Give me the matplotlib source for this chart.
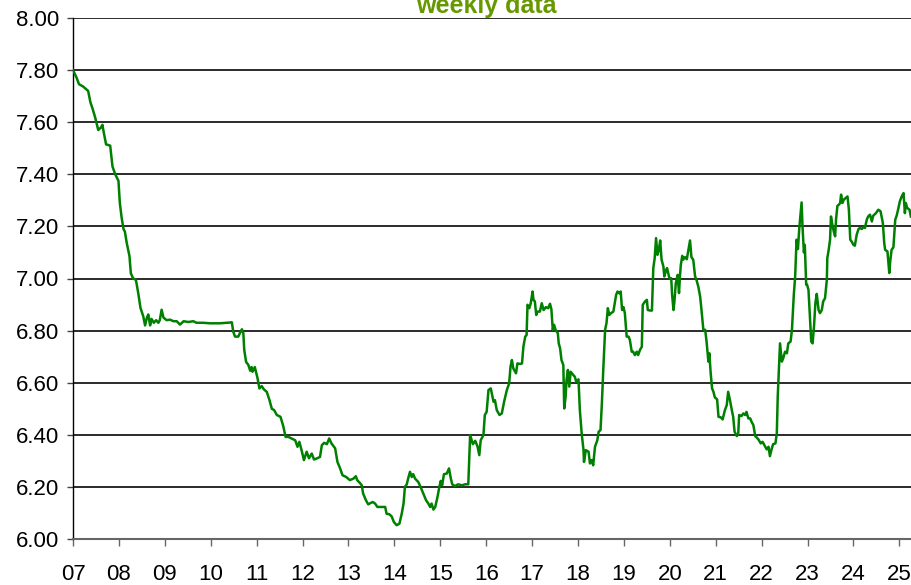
#! /usr/bin/env python
# -*- coding:utf-8 -*-

import sys
import matplotlib
matplotlib.use('Agg') # no gui, must be before 'import matplotlib.pyplot'
import matplotlib.pyplot as plt

# USD/CNY, weekly closes as (decimal year, rate)
rates_2007_09 = [
    (2007.00, 7.800), (2007.08, 7.770), (2007.13, 7.746), (2007.22, 7.737), (2007.33, 7.720),
    (2007.38, 7.676), (2007.43, 7.650), (2007.48, 7.620), (2007.55, 7.570), (2007.61, 7.580),
    (2007.64, 7.590), (2007.66, 7.570), (2007.72, 7.515), (2007.81, 7.510), (2007.86, 7.430),
    (2007.92, 7.400), (2007.99, 7.375), (2008.02, 7.290), (2008.06, 7.233), (2008.10, 7.190),
    (2008.13, 7.180), (2008.17, 7.137), (2008.23, 7.086), (2008.26, 7.020), (2008.31, 7.000),
    (2008.37, 6.995), (2008.42, 6.945), (2008.47, 6.887), (2008.53, 6.855), (2008.57, 6.820),
    (2008.61, 6.850), (2008.64, 6.862), (2008.68, 6.820), (2008.71, 6.845), (2008.76, 6.830),
    (2008.81, 6.840), (2008.86, 6.830), (2008.89, 6.840), (2008.93, 6.880), (2008.97, 6.850),
    (2009.04, 6.840), (2009.11, 6.842), (2009.19, 6.836), (2009.26, 6.836), (2009.33, 6.823),
    (2009.41, 6.836), (2009.51, 6.833), (2009.62, 6.836), (2009.69, 6.830), (2009.84, 6.830),
]

rates_2010_12 = [
    (2009.98, 6.828), (2010.20, 6.828), (2010.42, 6.831), (2010.46, 6.832), (2010.49, 6.796),
    (2010.53, 6.777), (2010.60, 6.777), (2010.65, 6.796), (2010.68, 6.805), (2010.71, 6.790),
    (2010.73, 6.726), (2010.77, 6.680), (2010.82, 6.668), (2010.86, 6.646), (2010.89, 6.660),
    (2010.91, 6.642), (2010.96, 6.660), (2011.02, 6.617), (2011.06, 6.578), (2011.11, 6.587),
    (2011.16, 6.574), (2011.22, 6.565), (2011.28, 6.533), (2011.33, 6.500), (2011.38, 6.495),
    (2011.44, 6.476), (2011.52, 6.469), (2011.58, 6.433), (2011.63, 6.392), (2011.69, 6.392),
    (2011.76, 6.386), (2011.84, 6.379), (2011.89, 6.354), (2011.93, 6.373), (2011.98, 6.340),
    (2012.03, 6.303), (2012.09, 6.335), (2012.14, 6.310), (2012.20, 6.328), (2012.25, 6.305),
    (2012.32, 6.310), (2012.38, 6.315), (2012.42, 6.360), (2012.47, 6.369), (2012.53, 6.364),
    (2012.58, 6.386), (2012.63, 6.367), (2012.71, 6.348), (2012.76, 6.296), (2012.82, 6.270),
    (2012.87, 6.245), (2012.95, 6.238),
]

rates_2013_15 = [
    (2013.03, 6.226), (2013.11, 6.232), (2013.16, 6.241), (2013.19, 6.226), (2013.25, 6.215),
    (2013.29, 6.206), (2013.32, 6.174), (2013.38, 6.149), (2013.43, 6.133), (2013.48, 6.138),
    (2013.53, 6.142), (2013.58, 6.136), (2013.63, 6.123), (2013.72, 6.123), (2013.80, 6.123),
    (2013.83, 6.097), (2013.89, 6.095), (2013.94, 6.087), (2013.99, 6.065), (2014.05, 6.053),
    (2014.11, 6.059), (2014.16, 6.097), (2014.20, 6.136), (2014.23, 6.200), (2014.27, 6.210),
    (2014.30, 6.232), (2014.34, 6.258), (2014.38, 6.238), (2014.41, 6.249), (2014.45, 6.232),
    (2014.52, 6.219), (2014.57, 6.200), (2014.63, 6.174), (2014.69, 6.149), (2014.74, 6.136),
    (2014.78, 6.123), (2014.81, 6.136), (2014.85, 6.113), (2014.89, 6.123), (2014.94, 6.162),
    (2014.98, 6.200), (2015.01, 6.223), (2015.04, 6.206), (2015.08, 6.249), (2015.14, 6.251),
    (2015.19, 6.271), (2015.23, 6.232), (2015.26, 6.210), (2015.32, 6.203), (2015.39, 6.210),
    (2015.47, 6.206), (2015.54, 6.210), (2015.61, 6.210), (2015.65, 6.399), (2015.71, 6.364),
    (2015.76, 6.377), (2015.81, 6.356), (2015.85, 6.322), (2015.88, 6.379), (2015.94, 6.399),
    (2015.97, 6.476), (2016.01, 6.488), (2016.05, 6.572), (2016.10, 6.578),
]

rates_2016_18 = [
    (2016.16, 6.527), (2016.19, 6.533), (2016.23, 6.495), (2016.29, 6.476), (2016.34, 6.482),
    (2016.39, 6.527), (2016.45, 6.572), (2016.50, 6.597), (2016.53, 6.662), (2016.56, 6.687),
    (2016.59, 6.655), (2016.65, 6.636), (2016.68, 6.674), (2016.74, 6.672), (2016.78, 6.674),
    (2016.81, 6.738), (2016.85, 6.777), (2016.88, 6.783), (2016.90, 6.899), (2016.94, 6.886),
    (2016.97, 6.905), (2017.01, 6.950), (2017.03, 6.918), (2017.06, 6.912), (2017.09, 6.860),
    (2017.12, 6.873), (2017.17, 6.873), (2017.21, 6.905), (2017.25, 6.879), (2017.30, 6.890),
    (2017.35, 6.886), (2017.39, 6.903), (2017.42, 6.882), (2017.45, 6.803), (2017.48, 6.822),
    (2017.51, 6.803), (2017.56, 6.790), (2017.58, 6.751), (2017.61, 6.732), (2017.64, 6.687),
    (2017.68, 6.668), (2017.70, 6.501), (2017.73, 6.546), (2017.75, 6.610), (2017.78, 6.649),
    (2017.81, 6.585), (2017.84, 6.642), (2017.88, 6.633), (2017.93, 6.623), (2017.96, 6.604),
    (2018.01, 6.613), (2018.04, 6.495), (2018.08, 6.405), (2018.12, 6.341), (2018.13, 6.296),
    (2018.17, 6.341), (2018.23, 6.335), (2018.26, 6.290), (2018.30, 6.303), (2018.33, 6.283),
    (2018.37, 6.354), (2018.42, 6.379), (2018.45, 6.412), (2018.49, 6.418), (2018.52, 6.521),
    (2018.55, 6.649), (2018.59, 6.803), (2018.62, 6.828), (2018.65, 6.886), (2018.68, 6.860),
    (2018.72, 6.867), (2018.77, 6.873), (2018.83, 6.937), (2018.86, 6.950), (2018.90, 6.943),
    (2018.93, 6.950), (2018.96, 6.879), (2018.99, 6.890), (2019.02, 6.867), (2019.06, 6.777),
    (2019.10, 6.777), (2019.13, 6.764),
]

rates_2019_21 = [
    (2019.17, 6.719), (2019.20, 6.719), (2019.24, 6.706), (2019.28, 6.719), (2019.31, 6.706),
    (2019.35, 6.726), (2019.39, 6.738), (2019.41, 6.899), (2019.46, 6.912), (2019.50, 6.918),
    (2019.52, 6.879), (2019.57, 6.877), (2019.61, 6.877), (2019.64, 7.040), (2019.67, 7.078),
    (2019.70, 7.155), (2019.73, 7.091), (2019.76, 7.110), (2019.79, 7.146), (2019.82, 7.072),
    (2019.86, 7.046), (2019.88, 7.008), (2019.92, 7.033), (2019.94, 7.040), (2019.99, 7.001),
    (2020.03, 7.001), (2020.05, 6.937), (2020.08, 6.879), (2020.10, 6.912), (2020.13, 6.982),
    (2020.17, 7.014), (2020.20, 6.944), (2020.22, 7.008), (2020.24, 7.053), (2020.27, 7.087),
    (2020.29, 7.072), (2020.33, 7.082), (2020.37, 7.074), (2020.40, 7.104), (2020.44, 7.146),
    (2020.47, 7.082), (2020.51, 7.072), (2020.55, 7.008), (2020.58, 6.995), (2020.62, 6.969),
    (2020.66, 6.931), (2020.69, 6.879), (2020.73, 6.803), (2020.77, 6.803), (2020.80, 6.758),
    (2020.84, 6.681), (2020.86, 6.713), (2020.89, 6.636), (2020.92, 6.578), (2020.95, 6.565),
    (2020.98, 6.544), (2021.03, 6.536), (2021.06, 6.469), (2021.11, 6.467), (2021.15, 6.459),
    (2021.20, 6.495), (2021.24, 6.514), (2021.27, 6.565), (2021.31, 6.533), (2021.35, 6.495),
    (2021.38, 6.469), (2021.41, 6.412), (2021.46, 6.395), (2021.49, 6.405), (2021.51, 6.476),
    (2021.56, 6.472), (2021.60, 6.482), (2021.64, 6.476), (2021.67, 6.488), (2021.71, 6.463),
    (2021.75, 6.463), (2021.78, 6.450), (2021.82, 6.437), (2021.86, 6.395), (2021.89, 6.390),
    (2021.93, 6.382), (2021.98, 6.367), (2022.02, 6.373), (2022.06, 6.360), (2022.11, 6.344),
    (2022.15, 6.354), (2022.18, 6.318),
]

rates_2022_25 = [
    (2022.22, 6.347), (2022.25, 6.364), (2022.30, 6.367), (2022.33, 6.405), (2022.35, 6.546),
    (2022.38, 6.674), (2022.40, 6.751), (2022.44, 6.681), (2022.47, 6.694), (2022.51, 6.719),
    (2022.55, 6.713), (2022.58, 6.751), (2022.63, 6.758), (2022.66, 6.803), (2022.70, 6.937),
    (2022.73, 7.008), (2022.76, 7.149), (2022.79, 7.113), (2022.82, 7.194), (2022.85, 7.251),
    (2022.87, 7.292), (2022.89, 7.200), (2022.92, 7.100), (2022.94, 7.129), (2022.97, 6.976),
    (2022.99, 6.976), (2023.02, 6.956), (2023.05, 6.854), (2023.08, 6.758), (2023.11, 6.751),
    (2023.14, 6.815), (2023.17, 6.905), (2023.20, 6.941), (2023.24, 6.879), (2023.27, 6.867),
    (2023.31, 6.879), (2023.34, 6.912), (2023.38, 6.924), (2023.42, 6.995), (2023.43, 7.078),
    (2023.46, 7.110), (2023.49, 7.149), (2023.51, 7.238), (2023.54, 7.206), (2023.57, 7.181),
    (2023.60, 7.162), (2023.62, 7.226), (2023.65, 7.279), (2023.68, 7.283), (2023.71, 7.290),
    (2023.73, 7.322), (2023.76, 7.290), (2023.79, 7.303), (2023.83, 7.309), (2023.87, 7.315),
    (2023.90, 7.264), (2023.93, 7.149), (2023.96, 7.142), (2024.00, 7.129), (2024.03, 7.126),
    (2024.07, 7.168), (2024.11, 7.190), (2024.14, 7.194), (2024.18, 7.190), (2024.22, 7.197),
    (2024.25, 7.194), (2024.29, 7.226), (2024.32, 7.238), (2024.36, 7.245), (2024.40, 7.219),
    (2024.43, 7.241), (2024.49, 7.251), (2024.54, 7.264), (2024.59, 7.258), (2024.64, 7.213),
    (2024.67, 7.136), (2024.69, 7.110), (2024.74, 7.104), (2024.78, 7.021), (2024.80, 7.065),
    (2024.83, 7.110), (2024.87, 7.120), (2024.91, 7.226), (2024.94, 7.241), (2024.98, 7.271),
    (2025.01, 7.296), (2025.05, 7.315), (2025.09, 7.328), (2025.12, 7.251), (2025.14, 7.290),
    (2025.17, 7.271), (2025.22, 7.264), (2025.25, 7.238),
]

years = list(range(2007, 2026))
year_labels = ['%02d' % (y % 100) for y in years]
y_ticks = [6.0, 6.2, 6.4, 6.6, 6.8, 7.0, 7.2, 7.4, 7.6, 7.8, 8.0]

def main():
    plt.rcParams['font.family'] = ['Liberation Sans', 'DejaVu Sans']
    narrow = ['Liberation Sans Narrow', 'Liberation Sans', 'DejaVu Sans']

    history = (rates_2007_09 + rates_2010_12 + rates_2013_15
               + rates_2016_18 + rates_2019_21 + rates_2022_25)
    x, y = zip(*history)

    fig = plt.figure(figsize=(9.11, 5.85), dpi=100)
    ax = fig.add_axes([73 / 911.0, 46 / 585.0, 838 / 911.0, 521 / 585.0])

    ax.plot(x, y, color='#008000', lw=1.8, zorder=3)

    ax.set_xlim(2007.0, 2025.253)
    ax.set_ylim(6.0, 8.0)
    ax.set_xticks(years)
    ax.set_xticklabels(year_labels, family=narrow, fontsize=16)
    ax.set_yticks(y_ticks)
    ax.set_yticklabels(['%.2f' % v for v in y_ticks], family=narrow, fontsize=16)

    ax.yaxis.grid(True, color='#1a1a1a', lw=1.3)
    ax.set_axisbelow(True)
    for side in ('top', 'right'):
        ax.spines[side].set_visible(False)
    ax.spines['left'].set_color('black')
    ax.spines['left'].set_linewidth(1.0)
    ax.spines['bottom'].set_color('#666666')
    ax.spines['bottom'].set_linewidth(1.5)

    ax.tick_params(axis='y', length=4, width=1, color='#444444', pad=6)
    ax.tick_params(axis='x', length=5, width=1, color='#666666', pad=13)

    fig.text(486 / 911.0, 1 - 13 / 585.0, 'weekly data', color='#669900',
             fontsize=18, fontweight='bold', ha='center', va='baseline')

    fig.savefig('out.png', dpi=100)
    return 0

if __name__ == '__main__':
    sys.exit(main())
